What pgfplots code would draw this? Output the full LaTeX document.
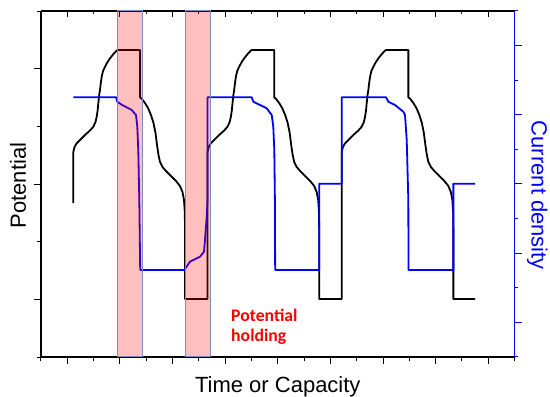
\documentclass[border=0pt]{standalone}
\usepackage{pgfplots}
\pgfplotsset{compat=1.18}
\usepackage{fontspec}
\setmainfont{Liberation Sans}
\newfontfamily\carlito{Carlito}
\definecolor{rectedge}{RGB}{125,140,190}
\begin{document}
\begin{tikzpicture}
\path[use as bounding box] (-41pt,-40pt) rectangle (509pt,357pt);
% ---------- left / bottom axis: potential ----------
\begin{axis}[
  scale only axis, width=473.6pt, height=346pt,
  xmin=0, xmax=18, ymin=0, ymax=6,
  axis x line*=bottom, axis y line*=left,
  axis line style={line width=1.2pt, black},
  tick align=outside,
  xtick={1,3,...,17}, minor xtick={0,2,...,18},
  ytick={1,3,5}, minor ytick={0,2,4,6},
  xticklabel=\empty, yticklabel=\empty,
  major tick length=7pt, minor tick length=4pt,
  every tick/.style={black, line width=1pt},
  xlabel={Time or Capacity}, ylabel={Potential},
  label style={font=\fontsize{22}{26}\selectfont},
  xlabel style={at={(axis description cs:0.5,-0.104)}, anchor=base},
  ylabel style={at={(axis description cs:-0.0322,0.4957)}, anchor=base},
]
\addplot[black, line width=1.8pt, line join=round] coordinates {
(1.228,2.670) (1.228,3.555) (1.273,3.641) (1.357,3.706) (1.482,3.763) (1.672,3.850)
(1.862,3.928) (1.988,3.993) (2.071,4.075) (2.117,4.167) (2.155,4.283) (2.178,4.399)
(2.212,4.543) (2.242,4.630) (2.273,4.751) (2.307,4.860) (2.357,4.959) (2.433,5.034)
(2.528,5.115) (2.623,5.179) (2.737,5.245) (2.877,5.315) (2.927,5.323) (3.763,5.323)
(3.763,4.503) (3.839,4.474) (3.953,4.404) (4.067,4.318) (4.181,4.196) (4.276,4.058)
(4.352,3.884) (4.409,3.676) (4.466,3.503) (4.523,3.382) (4.618,3.295) (4.751,3.225)
(4.941,3.139) (5.131,3.052) (5.283,2.965) (5.378,2.861) (5.435,2.722) (5.466,2.514)
(5.473,2.202) (5.473,1.006) (6.328,1.006)
(6.328,3.555) (6.373,3.641) (6.457,3.706) (6.582,3.763) (6.772,3.850) (6.962,3.928)
(7.088,3.993) (7.171,4.075) (7.217,4.167) (7.255,4.283) (7.278,4.399) (7.312,4.543)
(7.342,4.630) (7.373,4.751) (7.407,4.860) (7.457,4.959) (7.533,5.034) (7.628,5.115)
(7.723,5.179) (7.837,5.245) (7.977,5.315) (8.027,5.323) (8.863,5.323)
(8.863,4.503) (8.939,4.474) (9.053,4.404) (9.167,4.318) (9.281,4.196) (9.376,4.058)
(9.452,3.884) (9.509,3.676) (9.566,3.503) (9.623,3.382) (9.718,3.295) (9.851,3.225)
(10.041,3.139) (10.231,3.052) (10.383,2.965) (10.478,2.861) (10.535,2.722) (10.566,2.514)
(10.573,2.202) (10.573,1.006) (11.428,1.006)
(11.428,3.555) (11.473,3.641) (11.557,3.706) (11.682,3.763) (11.872,3.850) (12.062,3.928)
(12.188,3.993) (12.271,4.075) (12.317,4.167) (12.355,4.283) (12.378,4.399) (12.412,4.543)
(12.442,4.630) (12.473,4.751) (12.507,4.860) (12.557,4.959) (12.633,5.034) (12.728,5.115)
(12.823,5.179) (12.937,5.245) (13.077,5.315) (13.127,5.323) (13.963,5.323)
(13.963,4.503) (14.039,4.474) (14.153,4.404) (14.267,4.318) (14.381,4.196) (14.476,4.058)
(14.552,3.884) (14.609,3.676) (14.666,3.503) (14.723,3.382) (14.818,3.295) (14.951,3.225)
(15.141,3.139) (15.331,3.052) (15.483,2.965) (15.578,2.861) (15.635,2.722) (15.666,2.514)
(15.673,2.202) (15.673,1.006) (16.496,1.006)
};
\node[anchor=base west, text=red, font=\carlito\bfseries\fontsize{17.7}{20}\selectfont]
  at (axis cs:7.096,0.612) {Potential};
\node[anchor=base west, text=red, font=\carlito\bfseries\fontsize{17.7}{20}\selectfont]
  at (axis cs:7.096,0.265) {holding};
\end{axis}
% ---------- top axis: inner ticks ----------
\begin{axis}[
  scale only axis, width=473.6pt, height=346pt,
  xmin=0, xmax=18, ymin=0, ymax=6,
  axis x line*=top, hide y axis,
  axis line style={line width=1.2pt, black},
  tick align=inside,
  xtick={1,3,...,17}, minor xtick={0,2,...,18},
  xticklabel=\empty,
  major tick length=6pt, minor tick length=3pt,
  every tick/.style={black, line width=1pt},
]
\end{axis}
% ---------- right axis: current density ----------
\begin{axis}[
  scale only axis, width=473.6pt, height=346pt,
  xmin=0, xmax=18, ymin=0, ymax=10,
  axis y line*=right, hide x axis,
  axis line style={line width=1.2pt, blue},
  tick align=outside,
  ytick={1,3,...,9}, minor ytick={0,2,...,10},
  yticklabel=\empty,
  major tick length=7pt, minor tick length=3.5pt,
  every tick/.style={blue, line width=1pt},
  ylabel={Current density},
  ylabel style={font=\fontsize{22}{26}\selectfont, text=blue,
    at={(axis description cs:1.0361,0.467)}, anchor=base, rotate=180},
  clip=false,
]
\addplot[blue, line width=1.8pt, line join=round] coordinates {
(1.228,7.506) (2.858,7.506) (2.896,7.379) (3.086,7.283) (3.447,7.139) (3.611,6.994)
(3.660,6.656) (3.698,5.983) (3.736,4.538) (3.770,2.514) (5.447,2.514) (5.663,2.754)
(6.043,2.899) (6.195,3.043) (6.233,3.382) (6.298,4.055) (6.328,4.538) (6.328,7.506)
(8.008,7.506) (8.069,7.379) (8.324,7.283) (8.579,7.188) (8.769,6.994) (8.829,6.656)
(8.867,5.983) (8.890,4.538) (8.900,2.514) (10.573,2.514) (10.573,5.009) (11.428,5.009)
(11.428,7.506) (13.113,7.506) (13.201,7.379) (13.455,7.283) (13.771,7.090) (13.835,6.994)
(13.900,6.272) (13.961,4.538) (13.968,2.514) (15.673,2.514) (15.673,5.009) (16.496,5.009)
};
\addplot[fill=red, fill opacity=0.25, draw=rectedge, line width=1pt]
  coordinates {(2.900,0) (3.851,0) (3.851,10) (2.900,10)} -- cycle;
\addplot[fill=red, fill opacity=0.25, draw=rectedge, line width=1pt]
  coordinates {(5.500,0) (6.450,0) (6.450,10) (5.500,10)} -- cycle;
\end{axis}
\end{tikzpicture}
\end{document}
